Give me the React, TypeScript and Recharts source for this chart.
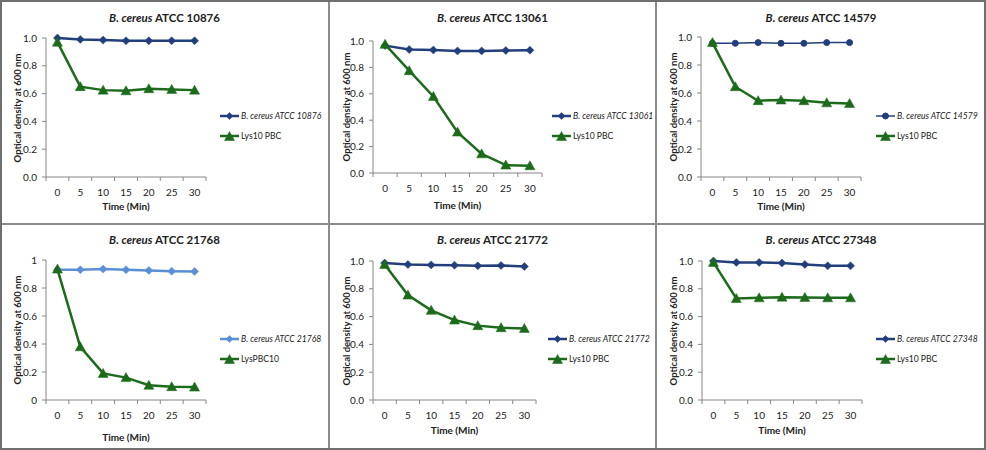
import { LineChart, Line, XAxis, YAxis } from 'recharts';

const TIMES = [0, 5, 10, 15, 20, 25, 30];
const Y_TICKS = [0, 0.2, 0.4, 0.6, 0.8, 1];

const STRAINS = ['10876', '13061', '14579', '21768', '21772', '27348'];
const LYSIN_NAMES = ['Lys10 PBC', 'Lys10 PBC', 'Lys10 PBC', 'LysPBC10', 'Lys10 PBC', 'Lys10 PBC'];

// control (untreated) OD600
const CTRL_10876 = [1.0, 0.99, 0.985, 0.98, 0.98, 0.98, 0.98];
const CTRL_13061 = [0.965, 0.935, 0.932, 0.925, 0.925, 0.928, 0.93];
const CTRL_14579 = [0.955, 0.955, 0.96, 0.955, 0.955, 0.96, 0.96];
const CTRL_21768 = [0.93, 0.93, 0.935, 0.93, 0.925, 0.92, 0.918];
const CTRL_21772 = [0.985, 0.975, 0.972, 0.97, 0.965, 0.968, 0.96];
const CTRL_27348 = [1.0, 0.99, 0.99, 0.985, 0.975, 0.965, 0.965];

// lysin treated OD600
const LYS_10876 = [0.97, 0.65, 0.625, 0.62, 0.635, 0.63, 0.625];
const LYS_13061 = [0.975, 0.775, 0.58, 0.31, 0.145, 0.06, 0.055];
const LYS_14579 = [0.96, 0.645, 0.545, 0.55, 0.545, 0.53, 0.525];
const LYS_21768 = [0.935, 0.38, 0.19, 0.16, 0.105, 0.095, 0.092];
const LYS_21772 = [0.975, 0.755, 0.645, 0.575, 0.535, 0.52, 0.515];
const LYS_27348 = [0.99, 0.73, 0.735, 0.74, 0.738, 0.735, 0.735];

const CONTROLS = [CTRL_10876, CTRL_13061, CTRL_14579, CTRL_21768, CTRL_21772, CTRL_27348];
const LYSINS = [LYS_10876, LYS_13061, LYS_14579, LYS_21768, LYS_21772, LYS_27348];

const DARK_BLUE = '#223f7c';
const LIGHT_BLUE = '#5b8fd4';
const GREEN = '#1b6b1b';
const AXIS = '#868686';
const TEXT = '#222';
const FONT = 'Lato, "Open Sans", sans-serif';

// panel boxes and plot rects (page coords)
const PANELS = [
  { px: 0, py: 0, w: 329, h: 224, left: 46, right: 206, top: 38, bottom: 177, legX: 220, legY: 116, timeY: 206, ctrlColor: DARK_BLUE, marker: 'diamond', intTicks: false },
  { px: 329, py: 0, w: 327, h: 224, left: 373, right: 542, top: 41, bottom: 173, legX: 552, legY: 116, timeY: 205, ctrlColor: DARK_BLUE, marker: 'diamond', intTicks: false },
  { px: 656, py: 0, w: 330, h: 224, left: 701, right: 861, top: 37, bottom: 177, legX: 876, legY: 116, timeY: 206, ctrlColor: DARK_BLUE, marker: 'circle', intTicks: false },
  { px: 0, py: 224, w: 329, h: 226, left: 46, right: 206, top: 260, bottom: 400, legX: 220, legY: 339, timeY: 437, ctrlColor: LIGHT_BLUE, marker: 'diamond', intTicks: true },
  { px: 329, py: 224, w: 327, h: 226, left: 373, right: 536, top: 261, bottom: 400, legX: 548, legY: 339, timeY: 430, ctrlColor: DARK_BLUE, marker: 'diamond', intTicks: false },
  { px: 656, py: 224, w: 330, h: 226, left: 702, right: 862, top: 261, bottom: 400, legX: 876, legY: 339, timeY: 430, ctrlColor: DARK_BLUE, marker: 'diamond', intTicks: false },
];

const Diamond = ({ cx, cy, color, s = 4 }: any) => (
  <path d={`M${cx},${cy - s}L${cx + s},${cy}L${cx},${cy + s}L${cx - s},${cy}Z`} fill={color} stroke={color} strokeWidth={0.5} />
);

const Triangle = ({ cx, cy, color }: any) => (
  <path d={`M${cx},${cy - 5}L${cx + 5},${cy + 4}L${cx - 5},${cy + 4}Z`} fill={color} stroke={color} strokeWidth={0.5} />
);

const Circle = ({ cx, cy, color }: any) => <circle cx={cx} cy={cy} r={3} fill={color} stroke={color} />;

const TICK_SIZE = 4;
const TICK_MARGIN = 8;

const makeXTick = (cw: number) => (props: any) => {
  const { x, y, payload, index } = props;
  const axisY = y - TICK_SIZE - TICK_MARGIN;
  return (
    <g>
      <line x1={x - cw / 2} x2={x - cw / 2} y1={axisY} y2={axisY + TICK_SIZE} stroke={AXIS} />
      {index === TIMES.length - 1 && (
        <line x1={x + cw / 2} x2={x + cw / 2} y1={axisY} y2={axisY + TICK_SIZE} stroke={AXIS} />
      )}
      <text x={x} y={y} dy="0.71em" textAnchor="middle" fontSize={10} fill={TEXT} fontFamily={FONT}>
        {payload.value}
      </text>
    </g>
  );
};

const LegendMark = ({ color, kind, width }: any) => (
  <svg width={19} height={12} style={{ display: 'block', flex: 'none' }}>
    <line x1={0} x2={19} y1={6} y2={6} stroke={color} strokeWidth={width} />
    {kind === 'diamond' && <Diamond cx={9.5} cy={6} color={color} s={3.5} />}
    {kind === 'circle' && <Circle cx={9.5} cy={6} color={color} />}
    {kind === 'triangle' && <Triangle cx={9.5} cy={6.5} color={color} />}
  </svg>
);

function Panel({ i }: { i: number }) {
  const p = PANELS[i];
  const data = TIMES.map((t, k) => ({ t, ctrl: CONTROLS[i][k], lys: LYSINS[i][k] }));
  const yAxisW = 30;
  const xAxisH = 20;
  const margin = {
    left: p.left - p.px - yAxisW,
    right: p.px + p.w - p.right,
    top: p.top - p.py,
    bottom: p.py + p.h - p.bottom - xAxisH,
  };
  const cw = (p.right - p.left) / TIMES.length;
  const ctrlWidth = p.marker === 'circle' ? 1.5 : 2.5;
  const ctrlDot = (d: any) =>
    p.marker === 'circle' ? (
      <Circle key={d.index} cx={d.cx} cy={d.cy} color={p.ctrlColor} />
    ) : (
      <Diamond key={d.index} cx={d.cx} cy={d.cy} color={p.ctrlColor} />
    );
  const lysDot = (d: any) => <Triangle key={d.index} cx={d.cx} cy={d.cy} color={GREEN} />;
  const midX = (p.left + p.right) / 2 - p.px;
  const midY = (p.top + p.bottom) / 2 - p.py;

  return (
    <div style={{ position: 'absolute', left: p.px, top: p.py, width: p.w, height: p.h }}>
      <LineChart width={p.w} height={p.h} data={data} margin={margin}>
        <XAxis
          dataKey="t"
          type="number"
          domain={[-2.5, 32.5]}
          ticks={TIMES}
          height={xAxisH}
          stroke={AXIS}
          tickLine={false}
          tickSize={TICK_SIZE}
          tickMargin={TICK_MARGIN}
          tick={makeXTick(cw)}
          interval={0}
        />
        <YAxis
          type="number"
          domain={[0, 1]}
          ticks={Y_TICKS}
          width={yAxisW}
          stroke={AXIS}
          tickSize={4}
          tickMargin={5}
          interval={0}
          tick={{ fontSize: 10, fill: TEXT, fontFamily: FONT }}
          tickFormatter={(v: number) => (p.intTicks ? String(Number(v.toFixed(1))) : v.toFixed(1))}
        />
        <Line dataKey="ctrl" type="linear" stroke={p.ctrlColor} strokeWidth={ctrlWidth} dot={ctrlDot} activeDot={false} isAnimationActive={false} />
        <Line dataKey="lys" type="linear" stroke={GREEN} strokeWidth={2.5} dot={lysDot} activeDot={false} isAnimationActive={false} />
      </LineChart>

      <div
        style={{
          position: 'absolute', left: 0, width: p.w, top: (i < 3 ? 18 : 240 - 224) - 8,
          textAlign: 'center', fontFamily: FONT, fontWeight: 700, fontSize: 11.5, color: TEXT, lineHeight: '16px',
        }}
      >
        <i>B. cereus</i> ATCC {STRAINS[i]}
      </div>

      <div
        style={{
          position: 'absolute', left: midX - 40, width: 80, top: p.timeY - p.py - 7,
          textAlign: 'center', fontFamily: FONT, fontWeight: 700, fontSize: 10, color: TEXT, lineHeight: '14px',
        }}
      >
        Time (Min)
      </div>

      <div
        style={{
          position: 'absolute', left: 18 - 70, width: 140, top: midY - 7,
          transform: 'rotate(-90deg)', textAlign: 'center', fontFamily: FONT, fontWeight: 700,
          fontSize: 9.5, color: TEXT, lineHeight: '14px', whiteSpace: 'nowrap',
        }}
      >
        Optical density at 600 nm
      </div>

      <div
        style={{
          position: 'absolute', left: p.legX - p.px, top: p.legY - p.py - 7, width: 104,
          fontFamily: FONT, fontSize: 8.6, color: TEXT, whiteSpace: 'nowrap',
        }}
      >
        <div style={{ display: 'flex', alignItems: 'center', height: 14 }}>
          <LegendMark color={p.ctrlColor} kind={p.marker} width={ctrlWidth} />
          <span style={{ marginLeft: 2, fontStyle: 'italic' }}>B. cereus ATCC {STRAINS[i]}</span>
        </div>
        <div style={{ display: 'flex', alignItems: 'center', height: 14, marginTop: 6 }}>
          <LegendMark color={GREEN} kind="triangle" width={2.5} />
          <span style={{ marginLeft: 2 }}>{LYSIN_NAMES[i]}</span>
        </div>
      </div>
    </div>
  );
}

export default function App() {
  return (
    <div style={{ position: 'absolute', left: 0, top: 0, width: 986, height: 450, background: '#fff', overflow: 'hidden' }}>
      {PANELS.map((_, i) => (
        <Panel key={i} i={i} />
      ))}
      <div style={{ position: 'absolute', left: 328, top: 0, width: 2, height: 450, background: '#8c8c8c' }} />
      <div style={{ position: 'absolute', left: 655, top: 0, width: 2, height: 450, background: '#8c8c8c' }} />
      <div style={{ position: 'absolute', left: 0, top: 223, width: 986, height: 2, background: '#8c8c8c' }} />
      <div style={{ position: 'absolute', left: 0, top: 0, width: 986, height: 450, boxSizing: 'border-box', border: '2px solid #6f6f6f' }} />
    </div>
  );
}
